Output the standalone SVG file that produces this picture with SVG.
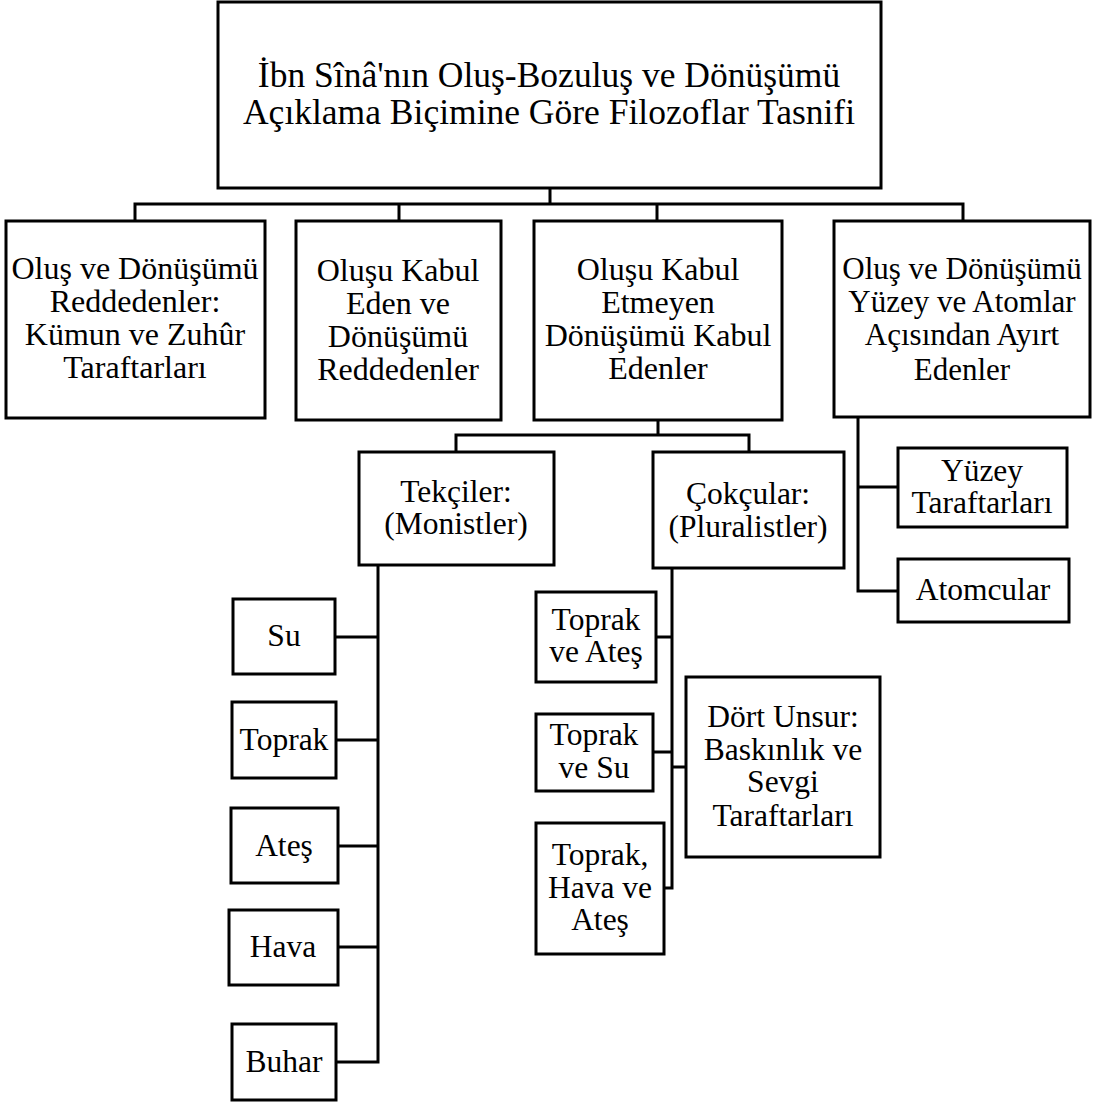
<svg xmlns="http://www.w3.org/2000/svg" width="1096" height="1115" viewBox="0 0 1096 1115">
<style>
rect{fill:#fff;stroke:#000;stroke-width:3}
#connectors path{fill:none;stroke:#000;stroke-width:3}
text{font-family:"Liberation Serif","Times New Roman",serif;fill:#000;text-anchor:middle}
.t0{font-size:35.5px}
.t1{font-size:32px}
.t1s{font-size:31px}
.t2{font-size:31.5px}
</style>
<rect x="0" y="0" width="1096" height="1115" style="stroke:none"/>
<g id="connectors">
<path d="M550 188V204M135 221V204H963V221M399 204V221M657 204V221"/>
<path d="M658 420V435M456 452V435H749V452"/>
<path d="M378 565V1062H336M335 637H378M336 740H378M338 846H378M338 947H378"/>
<path d="M672 568V888H664M656 637H672M653 752H672M672 767H686"/>
<path d="M858 417V591H898M858 487H898"/>
</g>
<g id="root"><rect x="218" y="2" width="663" height="186"/>
<text class="t0" x="549" y="87">İbn Sînâ'nın Oluş-Bozuluş ve Dönüşümü</text>
<text class="t0" x="549" y="124">Açıklama Biçimine Göre Filozoflar Tasnifi</text></g>
<g id="n1"><rect x="6" y="221" width="259" height="197"/>
<text class="t1" x="135" y="279">Oluş ve Dönüşümü</text>
<text class="t1" x="135" y="312">Reddedenler:</text>
<text class="t1" x="135" y="345">Kümun ve Zuhûr</text>
<text class="t1" x="135" y="378">Taraftarları</text></g>
<g id="n2"><rect x="296" y="221" width="205" height="199"/>
<text class="t1" x="398" y="281">Oluşu Kabul</text>
<text class="t1" x="398" y="314">Eden ve</text>
<text class="t1" x="398" y="347">Dönüşümü</text>
<text class="t1" x="398" y="380">Reddedenler</text></g>
<g id="n3"><rect x="534" y="221" width="248" height="199"/>
<text class="t1" x="658" y="280">Oluşu Kabul</text>
<text class="t1" x="658" y="313">Etmeyen</text>
<text class="t1" x="658" y="346">Dönüşümü Kabul</text>
<text class="t1" x="658" y="379">Edenler</text></g>
<g id="n4"><rect x="834" y="221" width="256" height="196"/>
<text class="t1s" x="962" y="279">Oluş ve Dönüşümü</text>
<text class="t1s" x="962" y="312">Yüzey ve Atomlar</text>
<text class="t1s" x="962" y="345">Açısından Ayırt</text>
<text class="t1s" x="962" y="380">Edenler</text></g>
<g id="tekciler"><rect x="359" y="452" width="195" height="113"/>
<text class="t2" x="456" y="502">Tekçiler:</text>
<text class="t2" x="456" y="534">(Monistler)</text></g>
<g id="cokcular"><rect x="653" y="452" width="191" height="116"/>
<text class="t2" x="748" y="504">Çokçular:</text>
<text class="t2" x="748" y="537">(Pluralistler)</text></g>
<g id="yuzey"><rect x="898" y="448" width="169" height="79"/>
<text class="t2" x="982" y="481">Yüzey</text>
<text class="t2" x="982" y="513">Taraftarları</text></g>
<g id="atomcular"><rect x="898" y="559" width="171" height="63"/>
<text class="t2" x="983" y="600">Atomcular</text></g>
<g id="su"><rect x="233" y="599" width="102" height="75"/>
<text class="t2" x="284" y="646">Su</text></g>
<g id="toprak"><rect x="232" y="702" width="104" height="76"/>
<text class="t2" x="284" y="750">Toprak</text></g>
<g id="ates"><rect x="231" y="808" width="107" height="75"/>
<text class="t2" x="284" y="856">Ateş</text></g>
<g id="hava"><rect x="229" y="910" width="109" height="75"/>
<text class="t2" x="283" y="957">Hava</text></g>
<g id="buhar"><rect x="232" y="1024" width="104" height="76"/>
<text class="t2" x="284" y="1072">Buhar</text></g>
<g id="toprak-ates"><rect x="536" y="592" width="120" height="90"/>
<text class="t2" x="596" y="630">Toprak</text>
<text class="t2" x="596" y="662">ve Ateş</text></g>
<g id="toprak-su"><rect x="536" y="714" width="117" height="77"/>
<text class="t2" x="594" y="745">Toprak</text>
<text class="t2" x="594" y="778">ve Su</text></g>
<g id="toprak-hava-ates"><rect x="536" y="823" width="128" height="131"/>
<text class="t2" x="600" y="865">Toprak,</text>
<text class="t2" x="600" y="898">Hava ve</text>
<text class="t2" x="600" y="930">Ateş</text></g>
<g id="dort-unsur"><rect x="686" y="677" width="194" height="180"/>
<text class="t2" x="783" y="727">Dört Unsur:</text>
<text class="t2" x="783" y="760">Baskınlık ve</text>
<text class="t2" x="783" y="792">Sevgi</text>
<text class="t2" x="783" y="826">Taraftarları</text></g>
</svg>
